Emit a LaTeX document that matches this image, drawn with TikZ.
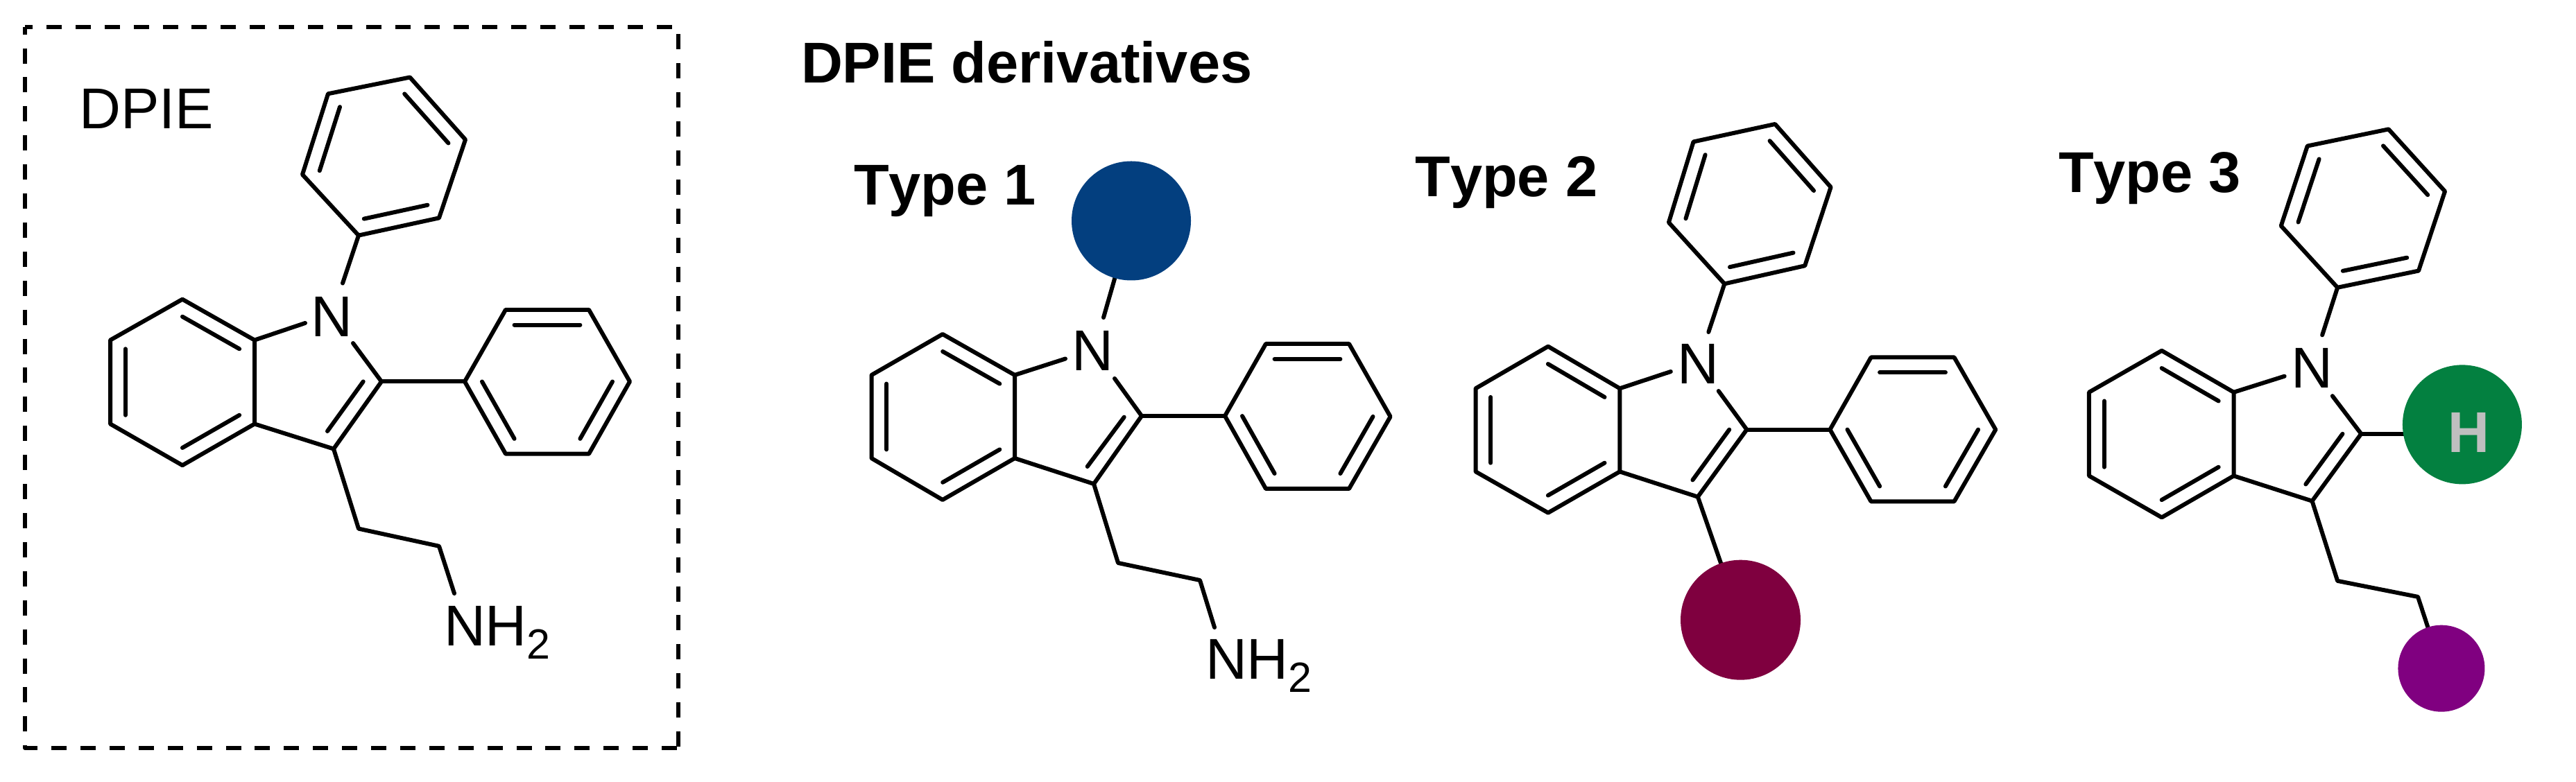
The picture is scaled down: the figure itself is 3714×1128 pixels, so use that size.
\documentclass[tikz,border=0pt]{standalone}
\usepackage{fontspec}
\setmainfont[Kerning=Off]{Liberation Sans}
\usetikzlibrary{calc}
\definecolor{navyblob}{HTML}{033F7F}
\definecolor{wineblob}{HTML}{7F003F}
\definecolor{greenblob}{HTML}{038040}
\definecolor{purpleblob}{HTML}{800080}
\definecolor{hgray}{HTML}{BFBFBF}
\tikzset{
  bond/.style={line width=1.2pt,line cap=round,line join=round,draw=black},
  framebox/.style={line width=1.2pt,line join=round,draw=black,dash pattern=on 4.4pt off 3.98pt,dash phase=2.2pt},
  atom/.style={inner sep=0pt,outer sep=0pt,anchor=base west,font=\fontsize{16.6pt}{18pt}\selectfont},
  heading/.style={inner sep=0pt,outer sep=0pt,anchor=base west,font=\fontsize{16.6pt}{18pt}\selectfont\bfseries},
  blob/.style={circle,inner sep=0pt,outer sep=0pt,draw=none},
}
% six ring vertices; inner lines on a-b, c-d, e-f
\newcommand\hexring[7]{%
  \coordinate (#1a) at (#2); \coordinate (#1b) at (#3); \coordinate (#1c) at (#4);
  \coordinate (#1d) at (#5); \coordinate (#1e) at (#6); \coordinate (#1f) at (#7);
  \coordinate (#1m) at ($(#1a)!.5!(#1d)$);
  \draw[bond] (#1a)--(#1b)--(#1c)--(#1d)--(#1e)--(#1f)--cycle;
  \draw[bond] ($(#1m)!.79!(#1a)$)--($(#1m)!.79!(#1b)$);
  \draw[bond] ($(#1m)!.79!(#1c)$)--($(#1m)!.79!(#1d)$);
  \draw[bond] ($(#1m)!.79!(#1e)$)--($(#1m)!.79!(#1f)$);
}
\newcommand\NHtwo{NH\raisebox{-3.8pt}{\fontsize{12.2pt}{14pt}\selectfont 2}}
\begin{document}
\begin{tikzpicture}[x=0.2pt,y=-0.2pt]
\useasboundingbox (0,0) rectangle (3714,1128);
% frame
\coordinate (tl) at (36,38.7); \coordinate (tr) at (978,38.7);
\coordinate (br) at (978,1079); \coordinate (bl) at (36,1079);
\draw[framebox] (tl)--(tr)--(br);
\draw[framebox] (tl)--(bl)--(br);
\node[atom] (lbl0) at (114.5,186) {DPIE};
\node[heading] (lblD) at (1155,120) {DPIE derivatives};
\node[heading] (lbl1) at (1231,295.5) {Type 1};
\node[heading] (lbl2) at (2040.3,284) {Type 2};
\node[heading] (lbl3) at (2968,277.3) {Type 3};

% ---------- DPIE
\hexring{Ab}{367,490.6}{263,431.7}{159,490.6}{159,611.5}{263,671.2}{367,611.5}
\hexring{Ap}{729,446.8}{849,446.8}{908,550.4}{849,654.7}{729,654.7}{670,550.4}
\hexring{Aq}{517,339.6}{633,314.4}{671,201.4}{591,111.5}{473,135.3}{436,251.8}
\node[atom] (AN) at (448.7,486) {N};
\coordinate (A2) at (550,550.4); \coordinate (A3) at (481,647.5);
\coordinate (Ax) at (440,466); \coordinate (Ay) at (509,495); \coordinate (Az) at (494,408.6);
\coordinate (Ai) at (523.7,550.4); \coordinate (Aj) at (472,622);
\coordinate (Ac1) at (517,762.6); \coordinate (Ac2) at (633,787.8); \coordinate (Ac3) at (655,856);
\draw[bond] (Aba)--(Ax);
\draw[bond] (Ay)--(A2)--(A3)--(Abf);
\draw[bond] (Ai)--(Aj);
\draw[bond] (A2)--(Apf);
\draw[bond] (Az)--(Aqa);
\draw[bond] (A3)--(Ac1)--(Ac2)--(Ac3);
\node[atom] (An2) at (640,931.7) {\NHtwo};

% ---------- Type 1
\hexring{Bb}{1463,541}{1359,482}{1256.5,541}{1256.5,661}{1359,721}{1463,661}
\hexring{Bp}{1825,496}{1945,496}{2004.6,601}{1945,705}{1825,705}{1766,600}
\node[atom] (BN) at (1545.4,535) {N};
\coordinate (B2) at (1646,600); \coordinate (B3) at (1577,698);
\coordinate (Bx) at (1536,517.5); \coordinate (By) at (1607,546); \coordinate (Bz) at (1591,458);
\coordinate (Bi) at (1620.7,601.7); \coordinate (Bj) at (1567.7,673);
\coordinate (Bc1) at (1612,812); \coordinate (Bc2) at (1730,837); \coordinate (Bc3) at (1751,905);
\coordinate (Bblobc) at (1631,318.5);
\draw[bond] (Bz)--(Bblobc);
\node[blob,fill=navyblob,minimum size=34.4pt] (Bblob) at (Bblobc) {};
\draw[bond] (Bba)--(Bx);
\draw[bond] (By)--(B2)--(B3)--(Bbf);
\draw[bond] (Bi)--(Bj);
\draw[bond] (B2)--(Bpf);
\draw[bond] (B3)--(Bc1)--(Bc2)--(Bc3);
\node[atom] (Bn2) at (1738,980) {\NHtwo};

% ---------- Type 2
\hexring{Cb}{2335.3,560.3}{2232,499.7}{2127.5,560.3}{2127.5,680.3}{2232,739.7}{2335.3,680.3}
\hexring{Cp}{2697.5,515.5}{2817.5,515.5}{2877.2,619.7}{2817.5,723.3}{2697.5,723.3}{2638.4,619.7}
\hexring{Cq}{2486.3,409.4}{2602.2,383.3}{2639.6,270}{2559.2,179}{2441.5,204.5}{2405.9,320.9}
\node[atom] (CN) at (2418.7,554) {N};
\coordinate (C2) at (2518.4,619.7); \coordinate (C3) at (2447.8,716.7);
\coordinate (Cx) at (2408.8,536); \coordinate (Cy) at (2477.7,564); \coordinate (Cz) at (2463.3,479);
\coordinate (Ci) at (2493.2,619.7); \coordinate (Cj) at (2440.4,692.4);
\draw[bond] (Cba)--(Cx);
\draw[bond] (Cy)--(C2)--(C3)--(Cbf);
\draw[bond] (Ci)--(Cj);
\draw[bond] (C2)--(Cpf);
\draw[bond] (Cz)--(Cqa);
\coordinate (Cblobc) at (2509.5,894.2);
\draw[bond] (C3)--(Cblobc);
\node[blob,fill=wineblob,minimum size=34.6pt] (Cblob) at (Cblobc) {};

% ---------- Type 3
\hexring{Db}{3220.5,565.8}{3116.7,505.8}{3011.9,565.8}{3011.9,686.4}{3116.7,746.4}{3220.5,686.4}
\hexring{Dq}{3370.1,414.8}{3487,390.6}{3525,276}{3443.7,186.4}{3326.7,210.6}{3288.7,325.8}
\node[atom] (DN) at (3303.3,560) {N};
\coordinate (D2) at (3404.2,625.8); \coordinate (D3) at (3333.5,722.7);
\coordinate (Dx) at (3293.6,542.7); \coordinate (Dy) at (3362.8,571.2); \coordinate (Dz) at (3348.1,483.3);
\coordinate (Di) at (3377.4,625.8); \coordinate (Dj) at (3324.3,698.5);
\coordinate (Dc1) at (3370.1,837.9); \coordinate (Dc2) at (3486,860.9);
\coordinate (Dgc) at (3549.9,612.4); \coordinate (Dpc) at (3519.9,964.2);
\draw[bond] (Dba)--(Dx);
\draw[bond] (Dy)--(D2)--(D3)--(Dbf);
\draw[bond] (Di)--(Dj);
\draw[bond] (Dz)--(Dqa);
\draw[bond] (D2)--(Dgc |- D2);
\draw[bond] (D3)--(Dc1)--(Dc2)--(Dpc);
\node[blob,fill=greenblob,minimum size=34.4pt] (Dg) at (Dgc) {};
\node[blob,fill=purpleblob,minimum size=25pt] (Dp) at (Dpc) {};
\node[heading,text=hgray] (DH) at (3529,653) {H};
\end{tikzpicture}
\end{document}
